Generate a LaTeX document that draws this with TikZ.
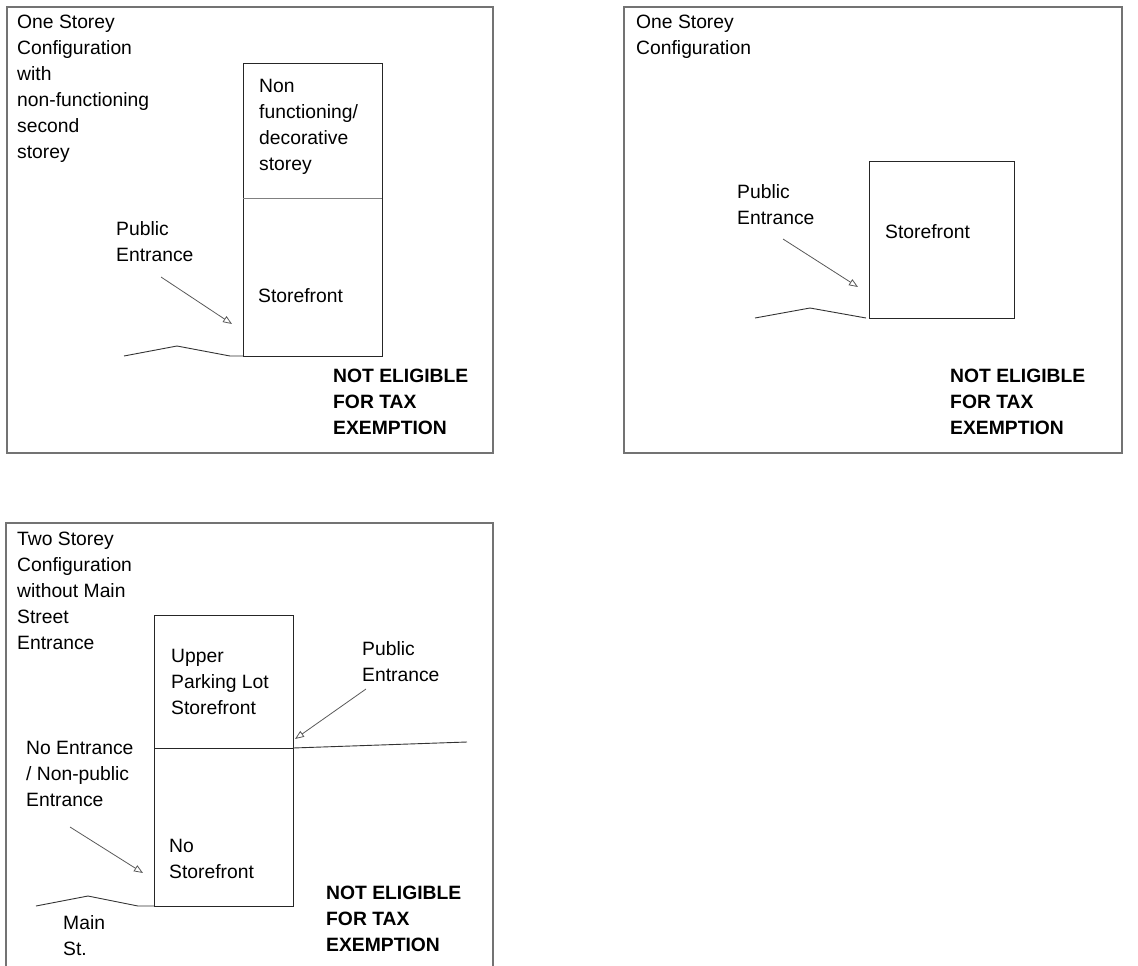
\documentclass[tikz,border=0pt]{standalone}
\usepackage{fontspec}
\setmainfont{Liberation Sans}
\usetikzlibrary{arrows.meta}

\tikzset{
  frame/.style={draw=black!55, line width=1.1pt},
  wall/.style={draw=black!85, line width=1pt},
  ground/.style={draw=black!80, line width=0.9pt},
  pointer/.style={draw=black!65, line width=0.8pt, -{Triangle[open, length=9pt, width=7pt]}},
  label/.style={anchor=north west, inner sep=0pt, align=left, font=\fontsize{19.3}{26}\selectfont},
  verdict/.style={label, font=\fontsize{19.3}{26}\selectfont\bfseries}
}

\begin{document}
\begin{tikzpicture}[x=1pt, y=-1pt]
  \useasboundingbox (0,0) rectangle (1138,966);

  % --- Panel 1: one storey with decorative second storey ---
  \draw[frame] (7,7) rectangle (493,453);
  \draw[wall] (243,64) rectangle (382,356);
  \draw[wall, draw=black!50] (243,198) -- (382,198);
  \draw[ground] (124,356) -- (177,346) -- (230,356) -- (243,356);

  \node[label] (title1) at (17,14.5) {One Storey\\Configuration\\with\\non-functioning\\second\\storey};
  \node[label] (upper1) at (259,79.5) {Non\\functioning/\\decorative\\storey};
  \node[label] (store1) at (258,288.5) {Storefront};
  \node[label] (pub1) at (116,221.5) {Public\\Entrance};
  \node[verdict] (verdict1) at (333,369) {NOT ELIGIBLE\\FOR TAX\\EXEMPTION};

  \coordinate (pub1tail) at (161,277);
  \coordinate (door1) at (232,324);
  \draw[pointer] (pub1tail) -- (door1);

  % --- Panel 2: one storey ---
  \draw[frame] (624,7) rectangle (1122,453);
  \draw[wall] (869,161) rectangle (1014,318);
  \draw[ground] (755,318) -- (810,308) -- (866,318);

  \node[label] (title2) at (636,14.5) {One Storey\\Configuration};
  \node[label] (pub2) at (737,184.5) {Public\\Entrance};
  \node[label] (store2) at (885,224.5) {Storefront};
  \node[verdict] (verdict2) at (950,369) {NOT ELIGIBLE\\FOR TAX\\EXEMPTION};

  \coordinate (pub2tail) at (783,239);
  \coordinate (door2) at (858,287);
  \draw[pointer] (pub2tail) -- (door2);

  % --- Panel 3: two storey, no Main Street entrance ---
  \draw[frame] (6,966) -- (6,523) -- (493,523) -- (493,966);
  \draw[wall] (154,615) rectangle (293,906);
  \draw[wall] (154,748) -- (293,748);
  \draw[ground] (36,906) -- (88,896) -- (138,906) -- (154,906);
  \draw[ground] (293,748) -- (467,742);

  \node[label] (title3) at (17,531.5) {Two Storey\\Configuration\\without Main\\Street\\Entrance};
  \node[label] (upper3) at (171,649.5) {Upper\\Parking Lot\\Storefront};
  \node[label] (pub3) at (362,641.5) {Public\\Entrance};
  \node[label] (noent) at (26,741.5) {No Entrance\\/ Non-public\\Entrance};
  \node[label] (nostore) at (169,839.5) {No\\Storefront};
  \node[label] (mainst) at (63,915.5) {Main\\St.};
  \node[verdict] (verdict3) at (326,885.5) {NOT ELIGIBLE\\FOR TAX\\EXEMPTION};

  \coordinate (noenttail) at (70,827);
  \coordinate (door3) at (143,873);
  \draw[pointer] (noenttail) -- (door3);
  \coordinate (pub3tail) at (366,689);
  \coordinate (door4) at (295,739);
  \draw[pointer] (pub3tail) -- (door4);

\end{tikzpicture}
\end{document}
